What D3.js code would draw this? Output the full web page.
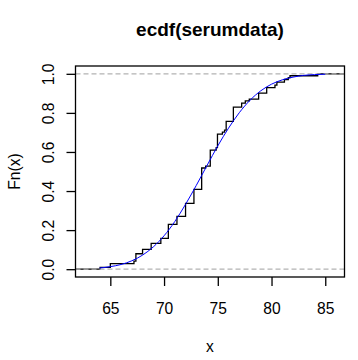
<!DOCTYPE html>
<html>
<head>
<meta charset="utf-8">
<script src="https://cdn.jsdelivr.net/npm/d3@7"></script>
<style>
  html, body { margin: 0; padding: 0; background: #ffffff; }
  svg { display: block; font-family: "Liberation Sans", Arial, sans-serif; }
</style>
</head>
<body>
<svg id="chart" width="358" height="360"></svg>
<script>
// ---- data ----
const chartTitle = "ecdf(serumdata)";
const xLabel = "x";
const yLabel = "Fn(x)";
const xTicks = [65, 70, 75, 80, 85];
const yTicks = [0, 0.2, 0.4, 0.6, 0.8, 1.0];
const yTickLabels = ["0.0", "0.2", "0.4", "0.6", "0.8", "1.0"];

// ECDF jump points (knots) and the value of Fn(x) after each jump
const knots = [64.05, 65.0, 67.2, 67.38, 68.0, 68.8, 69.7, 70.4, 71.2, 72.0, 72.78,
               73.5, 73.87, 74.3, 74.85, 74.97, 75.43, 75.63, 75.78, 76.45, 77.22,
               77.56, 77.93, 78.8, 79.55, 80.32, 80.5, 81.2, 81.56, 81.72, 84.3];
const fnValues = [0.009, 0.028, 0.041, 0.079, 0.101, 0.132, 0.158, 0.229, 0.270, 0.337, 0.409,
                  0.518, 0.528, 0.609, 0.622, 0.691, 0.702, 0.712, 0.757, 0.829, 0.850,
                  0.861, 0.870, 0.901, 0.929, 0.942, 0.957, 0.971, 0.981, 0.990, 1.0];

// blue overlay curve (fitted normal CDF)
const curveX = [64, 65, 66, 67, 68, 69, 70, 71, 72, 73, 74, 75, 76, 77, 78, 79, 80, 81, 82, 83, 84, 85];
const curveY = [0.006, 0.013, 0.024, 0.043, 0.072, 0.114, 0.171, 0.244, 0.332, 0.429, 0.531,
                0.631, 0.722, 0.801, 0.865, 0.913, 0.947, 0.969, 0.983, 0.992, 0.996, 0.998];

// ---- layout ----
const box = { left: 75.5, right: 344.5, top: 66, bottom: 277 };
const svg = d3.select("#chart");

const x = d3.scaleLinear().domain([61.76, 86.79]).range([box.left, box.right]);
const y = d3.scaleLinear().domain([-0.04, 1.04]).range([box.bottom, box.top]);

const fontSize = 15.6;

// clip for plot region
svg.append("defs").append("clipPath").attr("id", "plotclip")
  .append("rect")
  .attr("x", box.left).attr("y", box.top)
  .attr("width", box.right - box.left).attr("height", box.bottom - box.top);

const plot = svg.append("g").attr("clip-path", "url(#plotclip)");

// step function
const stepPts = [[x.domain()[0], 0]];
knots.forEach((k, i) => stepPts.push([k, fnValues[i]]));
stepPts.push([x.domain()[1], fnValues[fnValues.length - 1]]);

const stepLine = d3.line().x(d => x(d[0])).y(d => y(d[1])).curve(d3.curveStepAfter);
plot.append("path")
  .attr("d", stepLine(stepPts))
  .attr("fill", "none")
  .attr("stroke", "#000")
  .attr("stroke-width", 1.3);

// 0/1 reference lines
plot.selectAll("line.ref").data([0, 1]).enter().append("line")
  .attr("class", "ref")
  .attr("x1", box.left).attr("x2", box.right)
  .attr("y1", d => y(d)).attr("y2", d => y(d))
  .attr("stroke", "#b3b3b3")
  .attr("stroke-width", 1.3)
  .attr("stroke-dasharray", "5,3");

// blue curve
const curvePts = curveX.map((v, i) => [v, curveY[i]]);
const blueLine = d3.line().x(d => x(d[0])).y(d => y(d[1])).curve(d3.curveMonotoneX);
plot.append("path")
  .attr("d", blueLine(curvePts))
  .attr("fill", "none")
  .attr("stroke", "#0000ff")
  .attr("stroke-width", 1);

// box
svg.append("rect")
  .attr("x", box.left).attr("y", box.top)
  .attr("width", box.right - box.left).attr("height", box.bottom - box.top)
  .attr("fill", "none").attr("stroke", "#000").attr("stroke-width", 1.3);

// x axis
const xAxis = svg.append("g")
  .attr("transform", `translate(0,${box.bottom})`)
  .call(d3.axisBottom(x).tickValues(xTicks).tickFormat(d3.format("d")).tickSize(9).tickSizeOuter(0));
xAxis.select(".domain").remove();
xAxis.selectAll(".tick line").attr("stroke", "#000").attr("stroke-width", 1.3);
xAxis.selectAll(".tick text")
  .attr("y", 37).attr("dy", null)
  .attr("fill", "#000")
  .style("font-size", fontSize + "px")
  .style("font-family", "'Liberation Sans', Arial, sans-serif");

// y axis
const yAxis = svg.append("g")
  .attr("transform", `translate(${box.left},0)`)
  .call(d3.axisLeft(y).tickValues(yTicks).tickFormat((d, i) => yTickLabels[i]).tickSize(9).tickSizeOuter(0));
yAxis.select(".domain").remove();
yAxis.selectAll(".tick line").attr("stroke", "#000").attr("stroke-width", 1.3);
yAxis.selectAll(".tick text")
  .attr("x", null).attr("dy", null)
  .attr("transform", "translate(-22,0) rotate(-90)")
  .attr("text-anchor", "middle")
  .attr("fill", "#000")
  .style("font-size", fontSize + "px")
  .style("font-family", "'Liberation Sans', Arial, sans-serif");

// title
svg.append("text")
  .attr("x", (box.left + box.right) / 2).attr("y", 36)
  .attr("text-anchor", "middle")
  .style("font-size", "19px").style("font-weight", "bold")
  .text(chartTitle);

// axis labels
svg.append("text")
  .attr("x", (box.left + box.right) / 2).attr("y", 352)
  .attr("text-anchor", "middle")
  .style("font-size", fontSize + "px")
  .text(xLabel);

svg.append("text")
  .attr("transform", `translate(19.5,${(box.top + box.bottom) / 2}) rotate(-90)`)
  .attr("text-anchor", "middle")
  .style("font-size", fontSize + "px")
  .text(yLabel);
</script>
</body>
</html>
